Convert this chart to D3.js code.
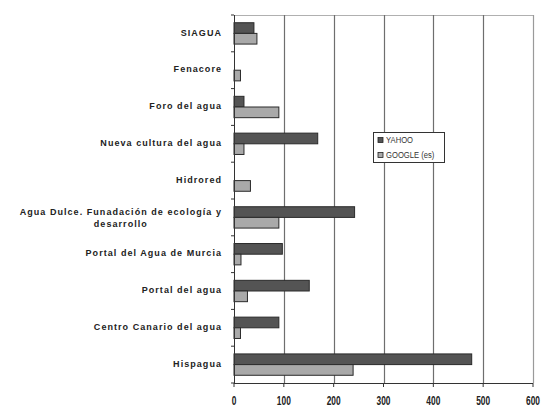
<!DOCTYPE html>
<html><head><meta charset="utf-8">
<script src="https://cdn.jsdelivr.net/npm/d3@7"></script>
<style>body{margin:0;background:#fff}svg{display:block}</style>
</head><body>
<svg id="c" width="543" height="408"></svg>
<script>
const categories = ["SIAGUA","Fenacore","Foro del agua","Nueva cultura del agua","Hidrored",
  "Agua Dulce. Funadación de ecología y|desarrollo","Portal del Agua de Murcia","Portal del agua",
  "Centro Canario del agua","Hispagua"];
const yahoo  = [40, 0, 20, 168, 0, 242, 97, 151, 90, 477];
const google = [46, 13, 90, 20, 33, 90, 14, 27, 13, 239];
const seriesNames = ["YAHOO","GOOGLE (es)"];
const xTicks = [0,100,200,300,400,500,600];

const svg = d3.select("#c");
const L=234, R=533, T=15, B=383;
const x = d3.scaleLinear().domain([0,600]).range([L,R]);
const y = d3.scaleBand().domain(categories).range([T,B]).paddingInner(0.42).paddingOuter(0.21);
const sub = d3.scaleBand().domain(seriesNames).range([0,y.bandwidth()]);
const colors = {"YAHOO":"#545454","GOOGLE (es)":"#a9a9a9"};

// frame top
svg.append("line").attr("x1",L).attr("x2",R).attr("y1",T+0.5).attr("y2",T+0.5).attr("stroke","#b0b0b0");
// grid
svg.append("g").selectAll("line").data(xTicks.slice(1)).join("line")
  .attr("x1",d=>Math.round(x(d))+0.5).attr("x2",d=>Math.round(x(d))+0.5)
  .attr("y1",T).attr("y2",B).attr("stroke",(d)=>d===600?"#9a9a9a":"#6e6e6e").attr("stroke-width",1.2);

// bars
const data = categories.map((c,i)=>({c, vals:[{s:"YAHOO",v:yahoo[i]},{s:"GOOGLE (es)",v:google[i]}]}));
const g = svg.append("g");
data.forEach(d=>{
  d.vals.forEach(e=>{
    if(e.v<=0) return;
    g.append("rect").attr("x",x(0)).attr("y",y(d.c)+sub(e.s))
      .attr("width",x(e.v)-x(0)).attr("height",sub.bandwidth())
      .attr("fill",colors[e.s]).attr("stroke","#2a2a2a").attr("stroke-width",1);
  });
});

// left axis
const ax = svg.append("g");
ax.append("line").attr("x1",L+0.5).attr("x2",L+0.5).attr("y1",T).attr("y2",B).attr("stroke","#333");
const bounds = d3.range(categories.length+1).map(i=>T+i*y.step());
ax.selectAll(".tk").data(bounds).join("line").attr("x1",L-3).attr("x2",L)
  .attr("y1",d=>d).attr("y2",d=>d).attr("stroke","#333");
// bottom axis
svg.append("line").attr("x1",L).attr("x2",R).attr("y1",B+0.5).attr("y2",B+0.5).attr("stroke","#333");
svg.append("g").selectAll("line").data(xTicks).join("line")
  .attr("x1",d=>x(d)).attr("x2",d=>x(d)).attr("y1",B).attr("y2",B+4).attr("stroke","#333");
svg.append("g").selectAll("text").data(xTicks).join("text")
  .attr("transform",d=>`translate(${x(d)},405) scale(0.62,1)`).attr("text-anchor","middle")
  .attr("font-family","Liberation Sans, Arial, sans-serif")
  .attr("font-size",13.5).attr("font-weight","bold").attr("fill","#222").text(d=>d);

// category labels
const lab = svg.append("g").attr("font-family","Liberation Sans, Arial, sans-serif")
  .attr("font-size",9).attr("font-weight","bold").attr("fill","#222").attr("letter-spacing","1.05px");
categories.forEach(c=>{
  const lines = c.split("|");
  const cy = y(c)+y.bandwidth()/2;
  if(lines.length===1){
    lab.append("text").attr("x",222).attr("y",cy-1).attr("dy","0.35em").attr("text-anchor","end").text(lines[0]);
  } else {
    const t1 = lab.append("text").attr("x",222).attr("y",cy-6).attr("dy","0.35em").attr("text-anchor","end").text(lines[0]);
    const w = t1.node().getComputedTextLength();
    lab.append("text").attr("x",222-w/2).attr("y",cy+6).attr("dy","0.35em").attr("text-anchor","middle").text(lines[1]);
  }
});

// legend
const lg = svg.append("g");
lg.append("rect").attr("x",373.5).attr("y",132.5).attr("width",71).attr("height",30)
  .attr("fill","#fff").attr("stroke","#333");
seriesNames.forEach((s,i)=>{
  const yy = 140+i*15;
  lg.append("rect").attr("x",378).attr("y",yy-2.5).attr("width",5).attr("height",5)
    .attr("fill",colors[s]).attr("stroke","#222").attr("stroke-width",0.8);
  lg.append("text").attr("transform",`translate(386,${yy}) scale(0.85,1)`).attr("dy","0.35em")
    .attr("font-family","Liberation Sans, Arial, sans-serif")
    .attr("font-size",9).attr("fill","#333").text(s);
});
</script>
</body></html>
